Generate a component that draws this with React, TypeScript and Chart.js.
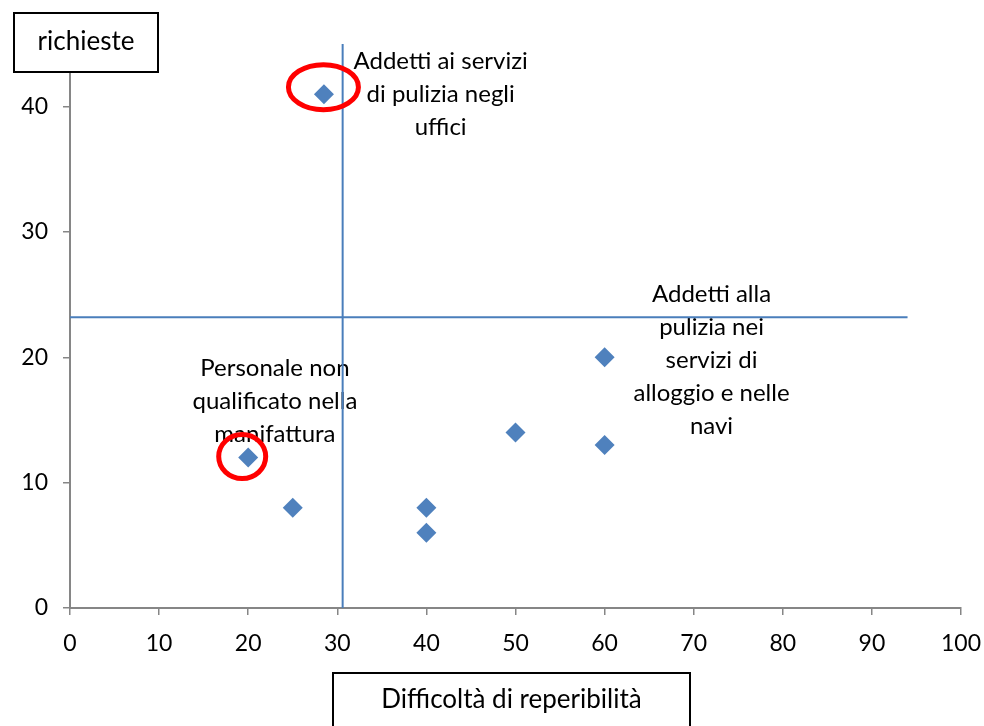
import React, { useEffect, useRef } from "react";
import { Chart, registerables } from "chart.js";

Chart.register(...registerables);

// Scatter data: difficoltà di reperibilità (x) vs richieste (y)
const xValues = [20, 25, 28.5, 40, 40, 50, 60, 60];
const yValues = [12, 8, 41, 8, 6, 14, 20, 13];

// Reference lines
const vLineX = [30.6, 30.6];
const vLineY = [0, 45];
const hLineX = [0, 94];
const hLineY = [23.2, 23.2];

// Circled points
const circledX = [28.5, 20];
const circledY = [41, 12];

// Text annotations (first-line anchor in data units)
const noteLines = [
  ["Addetti ai servizi", "di pulizia negli", "uffici"],
  ["Personale non", "qualificato nella", "manifattura"],
  ["Addetti alla", "pulizia nei", "servizi di", "alloggio e nelle", "navi"],
];
const noteX = [41.6, 23.0, 72.0];
const noteY = [43.6, 19.15, 25.05];

const xAxisTitle = "Difficoltà di reperibilità";
const yAxisTitle = "richieste";

const FONT = "Lato, 'Open Sans', sans-serif";

export default function App() {
  const ref = useRef<HTMLCanvasElement | null>(null);

  useEffect(() => {
    const canvas = ref.current;
    if (!canvas) return;

    const overlay = {
      id: "overlay",
      beforeDatasetsDraw(chart: any) {
        const { ctx, scales } = chart;
        ctx.save();
        ctx.fillStyle = "#000";
        ctx.font = `24px ${FONT}`;
        ctx.textAlign = "center";
        ctx.textBaseline = "middle";
        noteLines.forEach((lines, i) => {
          const cx = scales.x.getPixelForValue(noteX[i]);
          const cy = scales.y.getPixelForValue(noteY[i]);
          lines.forEach((t, j) => ctx.fillText(t, cx, cy + j * 33));
        });
        ctx.restore();
      },
      afterDatasetsDraw(chart: any) {
        const { ctx, scales } = chart;
        const radii = [
          [35, 22.5, -0.5, -7],
          [23.5, 22, -6, -1],
        ];
        ctx.save();
        ctx.strokeStyle = "#ff0000";
        ctx.lineWidth = 5;
        circledX.forEach((vx, i) => {
          const px = scales.x.getPixelForValue(vx) + radii[i][2];
          const py = scales.y.getPixelForValue(circledY[i]) + radii[i][3];
          ctx.beginPath();
          ctx.ellipse(px, py, radii[i][0], radii[i][1], 0, 0, Math.PI * 2);
          ctx.stroke();
        });
        ctx.restore();
      },
      afterDraw(chart: any) {
        const { ctx } = chart;
        ctx.save();
        const box = (x0: number, y0: number, x1: number, y1: number, t: string, ty: number) => {
          ctx.fillStyle = "#fff";
          ctx.fillRect(x0, y0, x1 - x0, y1 - y0);
          ctx.strokeStyle = "#000";
          ctx.lineWidth = 2;
          ctx.strokeRect(x0, y0, x1 - x0, y1 - y0);
          ctx.fillStyle = "#000";
          ctx.font = `26px ${FONT}`;
          ctx.textAlign = "center";
          ctx.textBaseline = "middle";
          ctx.fillText(t, (x0 + x1) / 2, ty);
        };
        box(14, 13, 158, 72, yAxisTitle, 42);
        box(333, 673, 690, 740, xAxisTitle, 700);
        ctx.restore();
      },
    };

    const gridCfg = {
      display: true,
      drawOnChartArea: false,
      drawTicks: true,
      tickLength: 7,
      color: "#868686",
      lineWidth: 1.5,
    };

    const chart = new Chart(canvas, {
      type: "scatter",
      data: {
        datasets: [
          {
            data: xValues.map((x, i) => ({ x, y: yValues[i] })),
            pointStyle: "rectRot",
            pointRadius: 10,
            backgroundColor: "#4f81bd",
            borderColor: "#4f81bd",
            borderWidth: 0,
            order: 0,
          },
          {
            data: vLineX.map((x, i) => ({ x, y: vLineY[i] })),
            showLine: true,
            pointRadius: 0,
            borderColor: "#4a7ebb",
            borderWidth: 2,
            order: 1,
          },
          {
            data: hLineX.map((x, i) => ({ x, y: hLineY[i] })),
            showLine: true,
            pointRadius: 0,
            borderColor: "#4a7ebb",
            borderWidth: 2,
            order: 1,
          },
        ],
      },
      options: {
        animation: false,
        responsive: false,
        layout: { padding: { left: 0, right: 23, top: 44, bottom: 0 } },
        plugins: { legend: { display: false }, tooltip: { enabled: false } },
        scales: {
          x: {
            type: "linear",
            min: 0,
            max: 100,
            ticks: { stepSize: 10, color: "#000", font: { family: FONT, size: 23 }, padding: 15 },
            grid: gridCfg,
            border: { color: "#868686", width: 2 },
            afterFit: (s: any) => {
              s.height = 118;
              s.paddingLeft = 0;
              s.paddingRight = 0;
            },
          },
          y: {
            type: "linear",
            min: 0,
            max: 45,
            ticks: { stepSize: 10, color: "#000", font: { family: FONT, size: 23 }, padding: 15 },
            grid: gridCfg,
            border: { color: "#868686", width: 2 },
            afterBuildTicks: (s: any) => {
              s.ticks = s.ticks.filter((t: any) => t.value % 10 === 0);
            },
            afterFit: (s: any) => {
              s.width = 70;
              s.paddingTop = 0;
              s.paddingBottom = 0;
            },
          },
        },
      },
      plugins: [overlay],
    } as any);

    return () => chart.destroy();
  }, []);

  return (
    <canvas
      ref={ref}
      width={984}
      height={726}
      style={{ position: "fixed", left: 0, top: 0, display: "block", background: "#fff" }}
    />
  );
}
